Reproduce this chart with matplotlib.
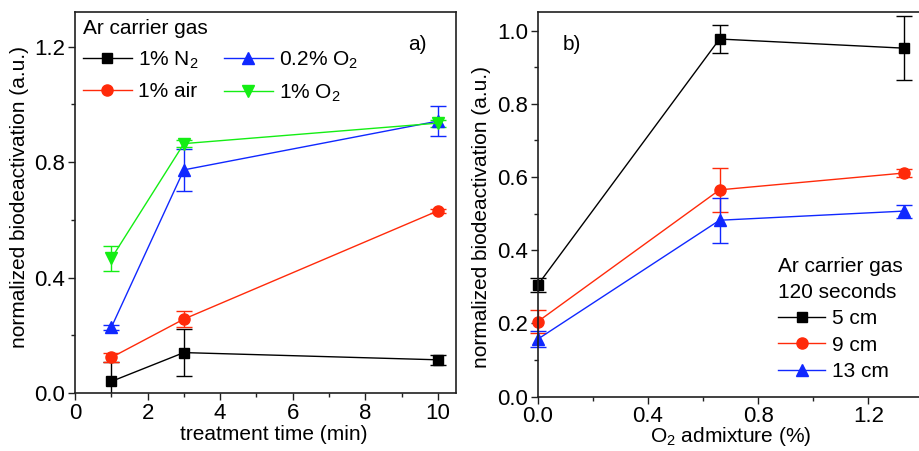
import matplotlib
matplotlib.use("Agg")
import matplotlib.pyplot as plt
from matplotlib.ticker import MultipleLocator, FormatStrFormatter

plt.rcParams['font.family'] = ['Liberation Sans', 'DejaVu Sans']
plt.rcParams['mathtext.fontset'] = 'custom'
plt.rcParams['mathtext.rm'] = 'Liberation Sans'
plt.rcParams['mathtext.it'] = 'Liberation Sans:italic'
plt.rcParams['mathtext.bf'] = 'Liberation Sans:bold'

FS = 15
TFS = 16

# ---- data panel a ----
time_min = [1, 3, 10]
n2_1 = [0.040, 0.140, 0.115]
n2_1_err = [0.068, 0.082, 0.018]
air_1 = [0.123, 0.256, 0.631]
air_1_err = [0.016, 0.027, 0.008]
o2_02 = [0.227, 0.773, 0.942]
o2_02_err = [0.010, 0.074, 0.053]
o2_1 = [0.466, 0.864, 0.935]
o2_1_err = [0.043, 0.012, 0.012]
labels_a = ['1% N$_2$', '1% air', '0.2% O$_2$', '1% O$_2$']

# ---- data panel b ----
o2_admix = [0.0, 0.66, 1.33]
cm5 = [0.305, 0.977, 0.952]
cm5_err = [0.020, 0.038, 0.088]
cm9 = [0.205, 0.565, 0.611]
cm9_err = [0.032, 0.060, 0.010]
cm13 = [0.157, 0.482, 0.507]
cm13_err = [0.022, 0.061, 0.018]
labels_b = ['5 cm', '9 cm', '13 cm']

BLACK = '#000000'
RED = '#FF2A0A'
BLUE = '#1028FF'
GREEN = '#14EE14'

fig = plt.figure(figsize=(9.19, 4.51), dpi=100)
W, H = 919, 451
axa = fig.add_axes([75 / W, (H - 393) / H, 381 / W, 381 / H])
axb = fig.add_axes([537.7 / W, (H - 396.7) / H, 385.8 / W, 384.4 / H])

def series(ax, x, y, e, color, marker, label, ms, clip):
    ax.errorbar(x, y, yerr=e, color=color, marker=marker, ms=ms, mec=color, mfc=color,
                lw=1.0, elinewidth=1.0, capsize=5.5, capthick=1.0, label=label, clip_on=clip)

series(axa, time_min, n2_1, n2_1_err, BLACK, 's', labels_a[0], 7.2, True)
series(axa, time_min, air_1, air_1_err, RED, 'o', labels_a[1], 8.0, True)
series(axa, time_min, o2_02, o2_02_err, BLUE, '^', labels_a[2], 8.0, True)
series(axa, time_min, o2_1, o2_1_err, GREEN, 'v', labels_a[3], 8.0, True)

series(axb, o2_admix, cm5, cm5_err, BLACK, 's', labels_b[0], 7.2, False)
series(axb, o2_admix, cm9, cm9_err, RED, 'o', labels_b[1], 8.0, False)
series(axb, o2_admix, cm13, cm13_err, BLUE, '^', labels_b[2], 8.0, False)

axa.set_xlim(0, 10.5)
axa.set_ylim(0, 1.32)
axa.xaxis.set_major_locator(MultipleLocator(2))
axa.xaxis.set_minor_locator(MultipleLocator(1))
axa.yaxis.set_major_locator(MultipleLocator(0.4))
axa.yaxis.set_minor_locator(MultipleLocator(0.2))
axa.yaxis.set_major_formatter(FormatStrFormatter('%.1f'))

axb.set_xlim(0, 1.4)
axb.set_ylim(0, 1.05)
axb.xaxis.set_major_locator(MultipleLocator(0.4))
axb.xaxis.set_minor_locator(MultipleLocator(0.2))
axb.yaxis.set_major_locator(MultipleLocator(0.2))
axb.yaxis.set_minor_locator(MultipleLocator(0.1))
axb.xaxis.set_major_formatter(FormatStrFormatter('%.1f'))
axb.yaxis.set_major_formatter(FormatStrFormatter('%.1f'))

for ax in (axa, axb):
    for s in ax.spines.values():
        s.set_linewidth(1.2)
        s.set_color('#202020')
    ax.tick_params(which='both', direction='out', top=False, right=False,
                   labelsize=TFS, width=1.0, color='#202020', pad=2)
    ax.tick_params(which='major', length=5)
    ax.tick_params(which='minor', length=3)

axb.spines['right'].set_visible(False)

axa.set_xlabel('treatment time (min)', fontsize=FS)
axa.set_ylabel('normalized biodeactivation (a.u.)', fontsize=FS)
axa.xaxis.set_label_coords((274 - 75) / 381, (393.3 - 435) / 381)
axa.yaxis.set_label_coords((20 - 75) / 381, (393 - 197) / 381)
axa.xaxis.label.set_va('center')
axa.yaxis.label.set_va('center')

axb.set_xlabel('O$_2$ admixture (%)', fontsize=FS)
axb.set_ylabel('normalized biodeactivation (a.u.)', fontsize=FS)
axb.xaxis.set_label_coords(0.5, (396.7 - 437) / 384.4)
axb.yaxis.set_label_coords((481.7 - 537.7) / 385.8, (396.7 - 217) / 384.4)
axb.xaxis.label.set_va('center')
axb.yaxis.label.set_va('center')

axa.text((417 - 75) / 381, (393 - 45) / 381, 'a)', transform=axa.transAxes,
         fontsize=FS, ha='center', va='center')
axb.text((572 - 537.7) / 385.8, (396.7 - 45) / 384.4, 'b)', transform=axb.transAxes,
         fontsize=FS, ha='center', va='center')

h, l = axa.get_legend_handles_labels()
h = [hh[0] if hasattr(hh, '__getitem__') else hh for hh in h]
lega = axa.legend(h, l, loc='upper left', bbox_to_anchor=((83 - 75) / 381, (393 - 19) / 381),
                  ncol=2, title='Ar carrier gas', title_fontsize=FS, fontsize=FS,
                  frameon=False, borderpad=0, borderaxespad=0, handlelength=2.35,
                  handletextpad=0.3, columnspacing=1.2, labelspacing=0.55,
                  alignment='left', numpoints=1)

h, l = axb.get_legend_handles_labels()
h = [hh[0] if hasattr(hh, '__getitem__') else hh for hh in h]
legb = axb.legend(h, l, loc='upper left', bbox_to_anchor=((778 - 537.7) / 385.8, (396.7 - 257) / 384.4),
                  title='Ar carrier gas\n120 seconds', title_fontsize=FS, fontsize=FS,
                  frameon=False, borderpad=0, borderaxespad=0, handlelength=2.26,
                  handletextpad=0.35, labelspacing=0.36, alignment='left', numpoints=1)
legb.get_title().set_linespacing(1.45)

fig.savefig('out.png', dpi=100)
